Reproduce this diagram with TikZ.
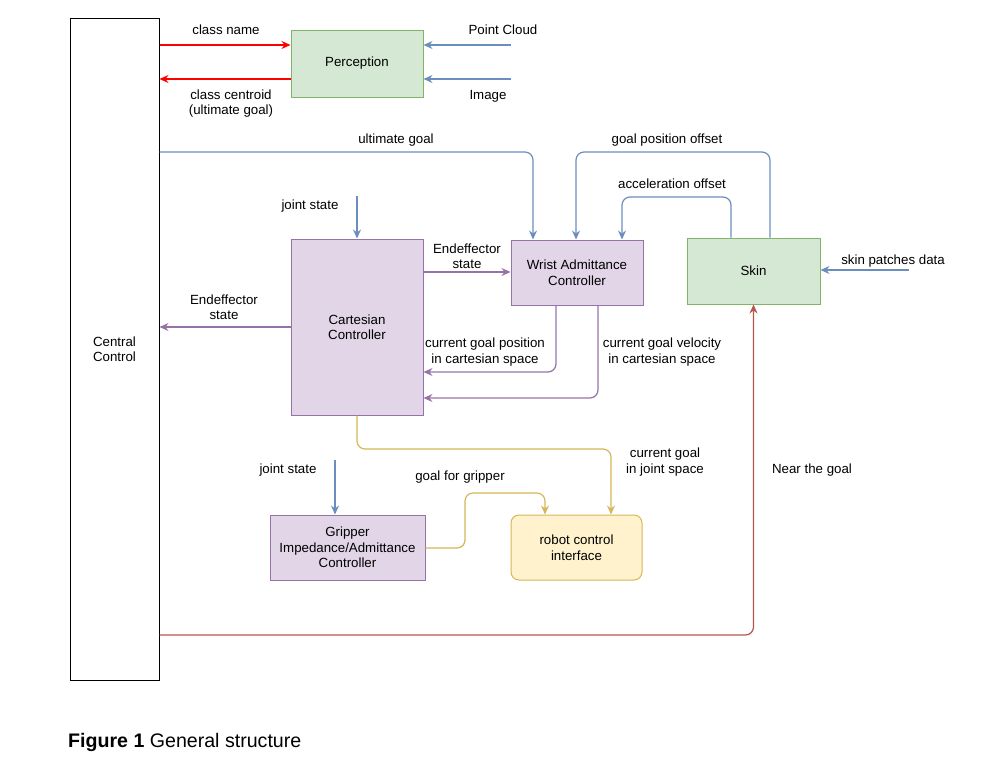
\documentclass[tikz,border=0pt]{standalone}
\usepackage{fontspec}
\setmainfont{Liberation Sans}
\usetikzlibrary{arrows.meta}
\definecolor{bl}{HTML}{6C8EBF}
\definecolor{pu}{HTML}{9673A6}
\definecolor{pufill}{HTML}{E1D5E7}
\definecolor{gr}{HTML}{82B366}
\definecolor{grfill}{HTML}{D5E8D4}
\definecolor{ye}{HTML}{D6B656}
\definecolor{yefill}{HTML}{FFF2CC}
\definecolor{rd}{HTML}{B85450}
\definecolor{brightred}{HTML}{FF0000}
\begin{document}
\begin{tikzpicture}[x=1pt,y=-1pt,
  every node/.style={font=\fontsize{13.3}{15.5}\selectfont, align=center, inner sep=0pt},
  box/.style={draw, line width=1pt, minimum width=#1},
  pubox/.style={box=132, draw=pu, fill=pufill},
  tip/.style={-{Stealth[length=9pt,width=8pt,inset=3pt]}},
  conn/.style={tip, line width=1.2pt, rounded corners=8},
  bconn/.style={conn, color=bl},
  pconn/.style={conn, color=pu},
  yconn/.style={conn, color=ye},
  rconn/.style={conn, color=brightred},
  nconn/.style={conn, color=rd}
]
\useasboundingbox (0,0) rectangle (992,771);
% nodes
\node[draw=black, line width=1pt, minimum width=89, minimum height=662] (central) at (114.5,349) {Central\\Control};
\node[box=132, draw=gr, fill=grfill, minimum height=67] (perc) at (357,63.5) {Perception};
\node[pubox, minimum height=176] (cart) at (357,327) {Cartesian\\Controller};
\node[pubox, minimum height=65] (wrist) at (577,272.5) {Wrist Admittance\\Controller};
\node[box=133, draw=gr, fill=grfill, minimum height=66] (skin) at (753.5,271) {Skin};
\node[box=155, draw=pu, fill=pufill, minimum height=65] (grip) at (347.5,547.5) {Gripper\\Impedance/Admittance\\Controller};
\node[box=131, draw=ye, fill=yefill, minimum height=65, rounded corners=8] (rci) at (576.5,547.5) {robot control\\interface};
% free ends
\coordinate (pcsrc) at (511,45);
\coordinate (imsrc) at (511,79);
\coordinate (js1) at (357,196);
\coordinate (js2) at (335,460);
\coordinate (skinsrc) at (909,270);
% red perception links
\draw[rconn] (central.east |- 0,45) -- (perc.west |- 0,45);
\draw[rconn] (perc.west |- 0,79) -- (central.east |- 0,79);
\draw[bconn] (pcsrc) -- (perc.east |- pcsrc);
\draw[bconn] (imsrc) -- (perc.east |- imsrc);
% ultimate goal
\draw[bconn] (central.east |- 0,152) -- (533,152) -- (wrist.north -| 533,0);
% skin feedback
\draw[bconn] (skin.north -| 770,0) -- (770,152) -- (576,152) -- (wrist.north -| 576,0);
\draw[bconn] (skin.north -| 731,0) -- (731,197) -- (622,197) -- (wrist.north -| 622,0);
\draw[bconn] (skinsrc) -- (skin.east |- skinsrc);
% joint states
\draw[bconn] (js1) -- (cart.north -| js1);
\draw[bconn] (js2) -- (grip.north -| js2);
% purple
\draw[pconn] (cart.east |- 0,272) -- (wrist.west |- 0,272);
\draw[pconn] (cart.west |- 0,327) -- (central.east |- 0,327);
\draw[pconn] (wrist.south -| 556,0) -- (556,372) -- (cart.east |- 0,372);
\draw[pconn] (wrist.south -| 598,0) -- (598,398) -- (cart.east |- 0,398);
% yellow
\draw[yconn] (cart.south) -- (357,449) -- (611,449) -- (rci.north -| 611,0);
\draw[yconn] (grip.east |- 0,548) -- (465,548) -- (465,493) -- (545,493) -- (rci.north -| 545,0);
% near the goal
\draw[nconn] (central.east |- 0,635) -- (753.5,635) -- (skin.south);
% labels
\node at (226,30) {class name};
\node at (231,103.5) {class centroid\\(ultimate goal)};
\node at (503,30) {Point Cloud};
\node at (488,96) {Image};
\node at (396,140) {ultimate goal};
\node at (667,140) {goal position offset};
\node at (672,184) {acceleration offset};
\node at (310,206) {joint state};
\node at (467,256) {Endeffector\\state};
\node at (224,307) {Endeffector\\state};
\node at (485,352) {current goal position\\in cartesian space};
\node at (662,352) {current goal velocity\\in cartesian space};
\node at (893,261) {skin patches data};
\node at (665,462) {current goal\\in joint space};
\node at (288,470) {joint state};
\node at (460,477) {goal for gripper};
\node at (812,470) {Near the goal};
\node[anchor=west, font=\fontsize{19.6}{22}\selectfont] at (68,742) {\textbf{Figure 1} General structure};
\end{tikzpicture}
\end{document}
